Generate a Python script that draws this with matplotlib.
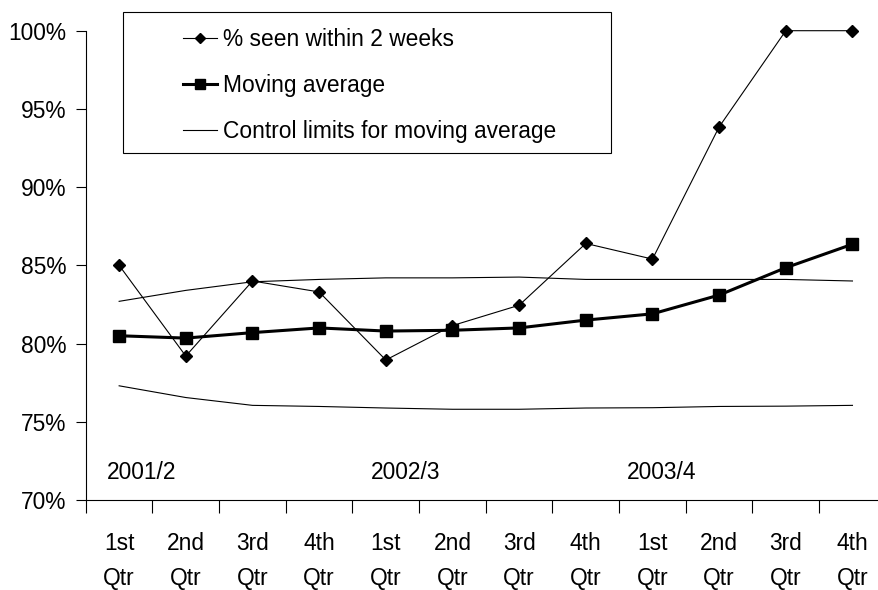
import matplotlib
matplotlib.use("Agg")
import matplotlib.pyplot as plt
from matplotlib.ticker import FixedLocator, FuncFormatter
from matplotlib.patches import Rectangle

categories = ["1st\nQtr", "2nd\nQtr", "3rd\nQtr", "4th\nQtr"] * 3
years = ["2001/2", "2002/3", "2003/4"]
seen_2wk = [85.0, 79.2, 84.0, 83.3, 78.95, 81.15, 82.45, 86.4, 85.4, 93.85, 100.0, 100.0]
moving_avg = [80.5, 80.35, 80.7, 81.0, 80.8, 80.85, 81.0, 81.5, 81.9, 83.1, 84.85, 86.35]
upper_ctl = [82.7, 83.4, 83.95, 84.1, 84.2, 84.2, 84.25, 84.1, 84.1, 84.1, 84.1, 84.0]
lower_ctl = [77.3, 76.55, 76.05, 75.98, 75.88, 75.8, 75.8, 75.88, 75.9, 75.98, 76.0, 76.05]
yticks = [70, 75, 80, 85, 90, 95, 100]

FS = 16.4
plt.rcParams['font.family'] = ['Liberation Sans', 'DejaVu Sans']
fig = plt.figure(figsize=(8.79, 5.9), dpi=100)
ax = fig.add_axes([85.8 / 879, 90 / 590, 800 / 879, 469.3 / 590])

x = list(range(len(categories)))
ax.plot(x, upper_ctl, color='black', lw=0.8, label='Control limits for moving average', zorder=2)
ax.plot(x, lower_ctl, color='black', lw=0.8, zorder=2)
ax.plot(x, moving_avg, color='black', lw=2.2, marker='s', ms=8.3, label='Moving average', zorder=3)
ax.plot(x, seen_2wk, color='black', lw=0.8, marker='D', ms=6.3, label='% seen within 2 weeks',
        zorder=4, clip_on=False)

ax.set_xlim(-0.5, 11.5)
ax.set_ylim(70, 100)
ax.yaxis.set_major_locator(FixedLocator(yticks))
ax.yaxis.set_major_formatter(FuncFormatter(lambda v, p: f"{v:.0f}%"))
ax.set_xticks(x)
ax.set_xticklabels(categories, fontsize=FS, linespacing=1.68)
ax.set_xticks([i - 0.5 for i in range(len(categories) + 1)], minor=True)
ax.tick_params(axis='x', which='major', length=0, pad=23)
ax.tick_params(axis='x', which='minor', length=9, width=0.8, direction='out')
ax.tick_params(axis='y', which='major', length=7, width=0.8, direction='out', labelsize=FS, pad=7)

for s in ['top', 'right']:
    ax.spines[s].set_visible(False)
for s in ['left', 'bottom']:
    ax.spines[s].set_linewidth(0.8)

year_pos = [-0.19, 3.78, 7.62]
for xp, yr in zip(year_pos, years):
    ax.text(xp, 71.75, yr, fontsize=FS, ha='left', va='center')

# legend frame
fig.patches.append(Rectangle((122.7 / 879, 1 - 153 / 590), (611 - 122.7) / 879, (153 - 12) / 590,
                             transform=fig.transFigure, fill=True, facecolor='white',
                             edgecolor='black', lw=0.8, zorder=5))

handles, labels = ax.get_legend_handles_labels()
order = [2, 1, 0]
leg = fig.legend([handles[i] for i in order], [labels[i] for i in order],
                 loc='upper left', bbox_to_anchor=(183 / 879, 1 - 28 / 590),
                 fontsize=FS, frameon=False, markerscale=0.8,
                 handlelength=1.5, handletextpad=0.27,
                 labelspacing=1.02, borderpad=0, borderaxespad=0)
leg.set_zorder(6)

fig.savefig("out.png", dpi=100)
